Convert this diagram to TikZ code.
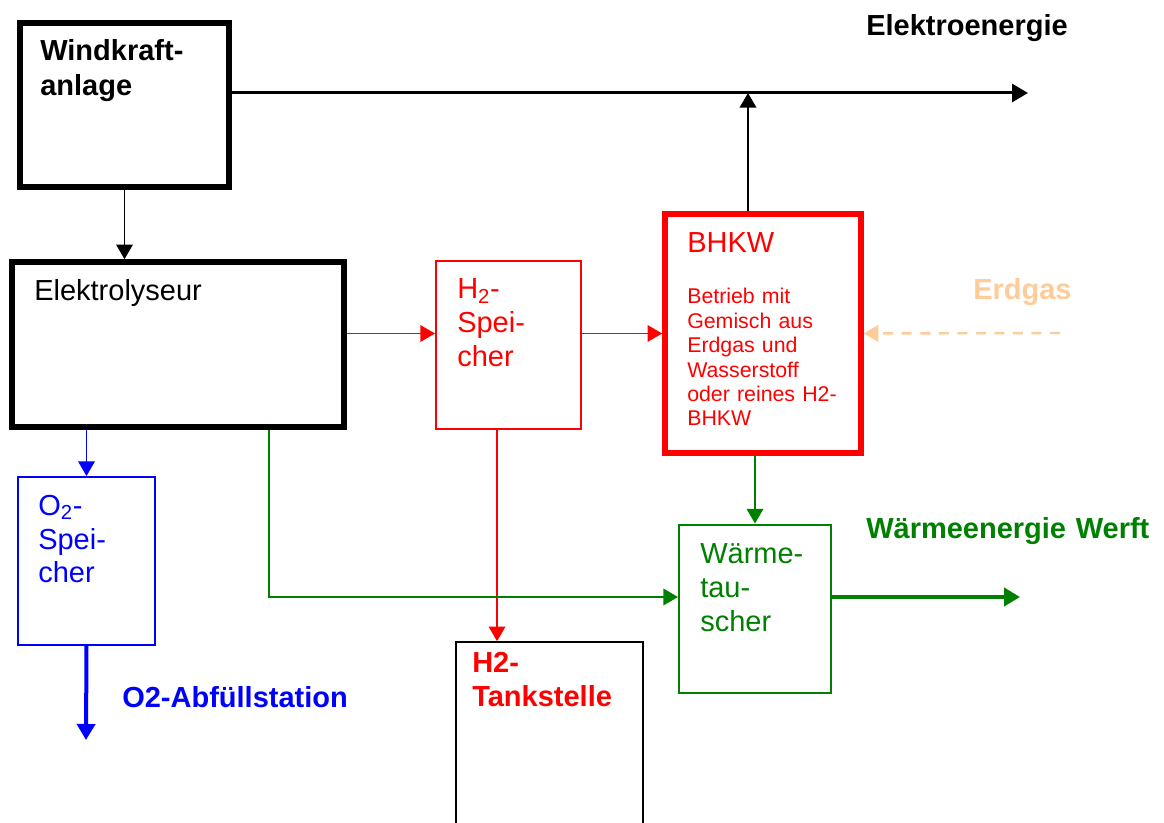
\documentclass[tikz,border=0pt]{standalone}
\usepackage{fontspec}
\setmainfont{Liberation Sans}
\usetikzlibrary{arrows.meta}
\definecolor{h2red}{RGB}{255,0,0}
\definecolor{o2blue}{RGB}{0,0,255}
\definecolor{heatgreen}{RGB}{0,128,0}
\definecolor{gaspeach}{RGB}{255,204,153}

\begin{document}
\begin{tikzpicture}[x=0.75pt,y=-0.75pt,
    unit/.style={rectangle,draw,line width=1.5pt,inner sep=0pt},
    heavy/.style={unit,line width=4.2pt},
    txt/.style={anchor=base west,inner sep=0pt,align=left,text width=8cm,font=\fontsize{21.75}{25.5}\selectfont},
    bold/.style={txt,font=\fontsize{21.75}{26}\selectfont\bfseries},
    small/.style={txt,font=\fontsize{16}{18.3}\selectfont},
    flow/.style={-{Triangle[length=11pt,width=12.5pt]},line width=1.1pt},
    thickflow/.style={-{Triangle[length=12pt,width=13.5pt]},line width=#1},
    thickflow/.default=3pt
]
\useasboundingbox (0,0) rectangle (1164,823);
\fill[white] (0,0) rectangle (1164,823);

\node[heavy,minimum width=156.75pt,minimum height=123pt] (wind) at (124.5,105) {};
\node[bold] (windtxt) at (40,61) {Windkraft-\\anlage};
\node[heavy,minimum width=249pt,minimum height=123.75pt] (elec) at (178,344.5) {};
\node[txt] (electxt) at (34,300.5) {Elektrolyseur};
\node[unit,draw=h2red,minimum width=108.75pt,minimum height=126pt] (h2) at (508.5,345) {};
\node[txt,text=h2red] (h2txt) at (457,299) {H\textsubscript{2}-\\Spei-\\cher};
\node[heavy,draw=h2red,minimum width=147pt,minimum height=179.25pt] (bhkw) at (763,333.5) {};
\node[txt,text=h2red] (bhkwtxt) at (687,253) {BHKW};
\node[small,text=h2red] (bhkwinfo) at (687,304) {Betrieb mit\\Gemisch aus\\Erdgas und\\Wasserstoff\\oder reines H2-\\BHKW};
\node[unit,draw=o2blue,minimum width=102.75pt,minimum height=126pt] (o2) at (86.5,561) {};
\node[txt,text=o2blue] (o2txt) at (38,515) {O\textsubscript{2}-\\Spei-\\cher};
\node[unit,draw=heatgreen,minimum width=114pt,minimum height=126pt] (wt) at (755,608.5) {};
\node[txt,text=heatgreen] (wttxt) at (700,563) {Wärme-\\tau-\\scher};
\node[unit,line width=1.2pt,minimum width=140.25pt,minimum height=144.75pt] (tank) at (549.5,738.5) {};
\node[bold,text=h2red] (tanktxt) at (472,672) {H2-\\Tankstelle};

\node[bold] (eltxt) at (866,36) {Elektroenergie};
\node[bold,text=gaspeach] (gastxt) at (973,300) {Erdgas};
\node[bold,text=o2blue] (o2outtxt) at (122,707) {O2-Abfüllstation};
\node[bold,text=heatgreen] (wtouttxt) at (866,538) {Wärmeenergie Werft};

\coordinate (eout) at (1028,93);
\coordinate (ejoin) at (748,93);
\coordinate (gas) at (1060,333);
\coordinate (o2out) at (86,740);
\coordinate (gbend) at (269,597);
\coordinate (wout) at (1020,597);

\draw[thickflow=2.25pt] (wind.east |- eout) -- (eout);
\draw[flow] (wind.south) -- (wind.south |- elec.north);
\draw[flow] (bhkw.north -| ejoin) -- (ejoin);
\draw[flow,h2red] (elec.east |- bhkw.west) -- (h2.west |- bhkw.west);
\draw[flow,h2red] (h2.east |- bhkw.west) -- (bhkw.west);
\draw[flow,h2red] ([xshift=-8.6pt]h2.south) -- ([xshift=-8.6pt]h2.south |- tank.north);
\draw[flow,gaspeach,line width=1.8pt,dash pattern=on 7.5pt off 6.4pt] (gas) -- (bhkw.east);
\draw[flow,o2blue] (o2.north |- elec.south) -- (o2.north);
\draw[thickflow,o2blue] (o2.south) -- (o2out);
\draw[flow,heatgreen] (gbend |- elec.south) -- (gbend) -- (wt.west |- gbend);
\draw[flow,heatgreen] (wt.north |- bhkw.south) -- (wt.north);
\draw[thickflow=3.5pt,heatgreen] (wt.east |- gbend) -- (wout);
\end{tikzpicture}
\end{document}
